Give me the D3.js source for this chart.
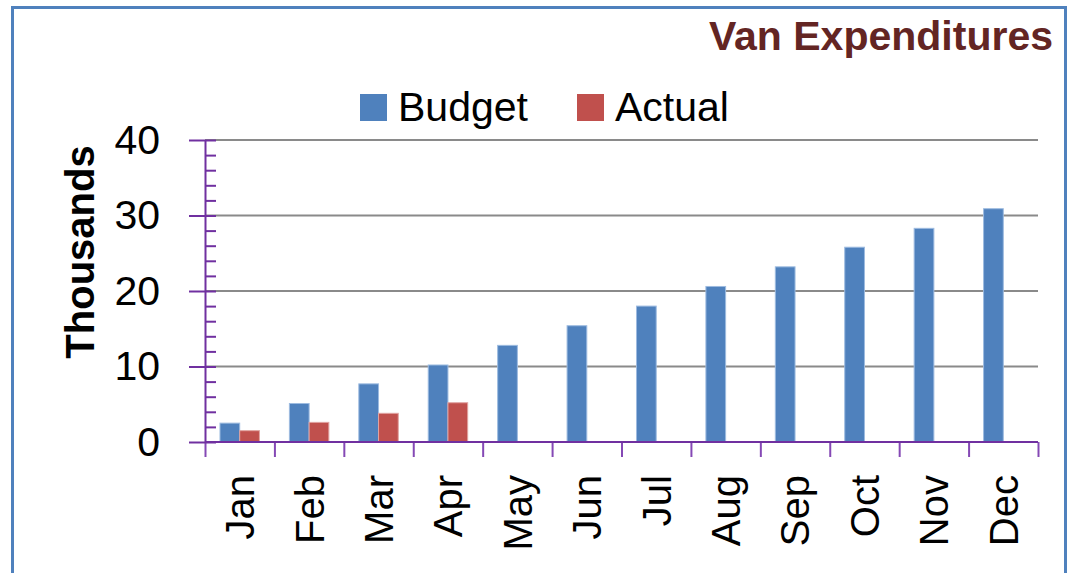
<!DOCTYPE html>
<html>
<head>
<meta charset="utf-8">
<script src="https://cdn.jsdelivr.net/npm/d3@7"></script>
<style>
  body { margin: 0; background: #fff; }
  svg { display: block; }
</style>
</head>
<body>
<div id="chart"></div>
<script>
(function() {
  "use strict";

  // data (thousands)
  var months = ["Jan", "Feb", "Mar", "Apr", "May", "Jun", "Jul", "Aug", "Sep", "Oct", "Nov", "Dec"];
  var series = ["Budget", "Actual"];
  var budget = [2.5, 5.1, 7.7, 10.2, 12.8, 15.4, 18.0, 20.6, 23.2, 25.8, 28.3, 30.9];
  var actual = [1.5, 2.6, 3.8, 5.2];
  var yTicks = [0, 10, 20, 30, 40];

  var colors = { Budget: "#4F81BD", Actual: "#C0504D" },
      edge = { Budget: "#9dbbe0", Actual: "#e0a3a1" },
      purple = "#7030A0";

  var svgWidth = 1074, svgHeight = 573,
      margin = { top: 140, right: 36, bottom: 131, left: 205 },
      width = svgWidth - margin.left - margin.right,
      height = svgHeight - margin.top - margin.bottom;

  var rows = months.map(function(m, i) {
    return { month: m, Budget: budget[i], Actual: i < actual.length ? actual[i] : null };
  });

  var svg = d3.select("#chart").append("svg")
      .attr("width", svgWidth)
      .attr("height", svgHeight);

  // outer frame
  svg.append("rect")
      .attr("x", 12.5).attr("y", 7.5)
      .attr("width", 1053).attr("height", 580)
      .attr("fill", "none")
      .attr("stroke", "#4F81BD")
      .attr("stroke-width", 3);

  // title
  svg.append("text")
      .attr("x", 1053).attr("y", 50)
      .attr("text-anchor", "end")
      .attr("font-family", "Liberation Sans, Arial, sans-serif")
      .attr("font-weight", "bold")
      .attr("font-size", 41)
      .attr("fill", "#632523")
      .text("Van Expenditures");

  var x = d3.scaleBand().domain(months).range([0, width]).paddingInner(0).paddingOuter(0);
  var x1 = d3.scaleBand().domain(series).range([0, x.bandwidth()]).paddingInner(0).paddingOuter(0.76);
  var xEdge = d3.scaleLinear().domain([0, months.length]).range([0, width]);
  var y = d3.scaleLinear().domain([0, 40]).range([height, 0]);

  var g = svg.append("g")
      .attr("transform", "translate(" + margin.left + "," + margin.top + ")");

  // gridlines
  g.append("g")
      .selectAll("line")
      .data(yTicks.slice(1))
      .enter()
    .append("line")
      .attr("x1", 0).attr("x2", width)
      .attr("y1", y).attr("y2", y)
      .attr("stroke", "#8a8a8a")
      .attr("stroke-width", 2);

  // bars
  var groups = g.append("g")
      .selectAll("g")
      .data(rows)
      .enter()
    .append("g")
      .attr("transform", function(d) { return "translate(" + x(d.month) + ",0)"; });

  groups.selectAll("rect")
      .data(function(d) {
        return series.filter(function(s) { return d[s] !== null; })
          .map(function(s) { return { key: s, value: d[s] }; });
      })
      .enter()
    .append("rect")
      .attr("x", function(d) { return x1(d.key); })
      .attr("y", function(d) { return y(d.value); })
      .attr("width", x1.bandwidth())
      .attr("height", function(d) { return height - y(d.value); })
      .attr("fill", function(d) { return colors[d.key]; })
      .attr("stroke", function(d) { return edge[d.key]; })
      .attr("stroke-width", 1);

  // x axis: boundary ticks
  var xTickAxis = g.append("g")
      .attr("transform", "translate(0," + height + ")")
      .call(d3.axisBottom(xEdge).tickValues(d3.range(months.length + 1)).tickSize(15).tickFormat(""));
  xTickAxis.select(".domain").remove();
  xTickAxis.selectAll(".tick line").attr("stroke", "#8549b5").attr("stroke-width", 2);

  g.append("line")
      .attr("x1", 0).attr("x2", width)
      .attr("y1", height).attr("y2", height)
      .attr("stroke", purple)
      .attr("stroke-width", 2);

  // month labels, rotated
  var xLabels = g.append("g")
      .attr("transform", "translate(0," + height + ")")
      .call(d3.axisBottom(x).tickSize(0).tickPadding(0));
  xLabels.select(".domain").remove();
  xLabels.selectAll(".tick text")
      .attr("y", 0)
      .attr("x", 0)
      .attr("dy", "0.36em")
      .attr("transform", "translate(0,33) rotate(-90)")
      .attr("text-anchor", "end")
      .attr("font-family", "Liberation Sans, Arial, sans-serif")
      .attr("font-size", 40)
      .attr("fill", "#000");

  // y axis: minor ticks inside, major ticks crossing
  var minor = g.append("g")
      .call(d3.axisRight(y).tickValues(d3.range(0, 41, 2)).tickSize(11).tickFormat(""));
  minor.select(".domain").remove();
  minor.selectAll(".tick line").attr("stroke", purple).attr("stroke-width", 2);

  var yAxis = g.append("g")
      .call(d3.axisLeft(y).tickValues(yTicks).tickSizeInner(16).tickSizeOuter(0).tickPadding(29));
  yAxis.select(".domain").attr("stroke", purple).attr("stroke-width", 2);
  yAxis.selectAll(".tick line").attr("stroke", purple).attr("stroke-width", 2);
  yAxis.selectAll(".tick text")
      .attr("font-family", "Liberation Sans, Arial, sans-serif")
      .attr("font-size", 41)
      .attr("fill", "#000");

  // y axis title
  svg.append("text")
      .attr("transform", "translate(94,252) rotate(-90)")
      .attr("text-anchor", "middle")
      .attr("font-family", "Liberation Sans, Arial, sans-serif")
      .attr("font-weight", "bold")
      .attr("font-size", 40)
      .attr("fill", "#000")
      .text("Thousands");

  // legend
  var legendX = [360, 577];
  var legend = svg.append("g")
      .selectAll("g")
      .data(series)
      .enter()
    .append("g")
      .attr("transform", function(d, i) { return "translate(" + legendX[i] + ",94)"; });

  legend.append("rect")
      .attr("width", 27).attr("height", 27)
      .attr("fill", function(d) { return colors[d]; });

  legend.append("text")
      .attr("x", 38).attr("y", 27)
      .attr("font-family", "Liberation Sans, Arial, sans-serif")
      .attr("font-size", 41)
      .attr("fill", "#000")
      .text(function(d) { return d; });
})();
</script>
</body>
</html>
